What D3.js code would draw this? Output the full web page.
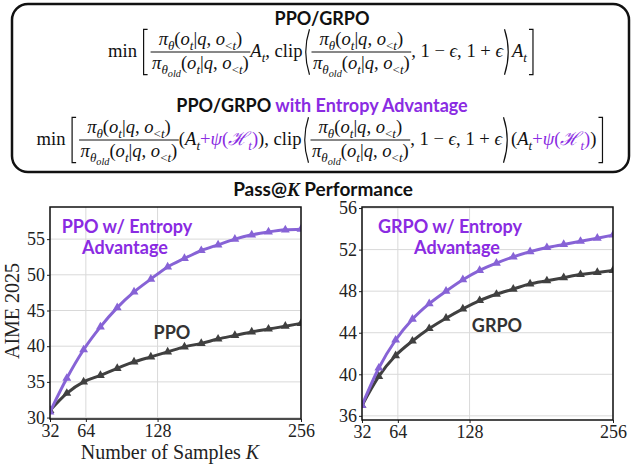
<!DOCTYPE html>
<html>
<head>
<meta charset="utf-8">
<script src="https://cdn.jsdelivr.net/npm/d3@7"></script>
<style>
  body { margin: 0; background: #fff; }
  text { white-space: pre; }
</style>
</head>
<body>
<div id="chart"></div>
<script>
// ---- data ----
const kValues = [32, 47, 62, 77, 92, 107, 122, 137, 152, 167, 182, 197, 212, 227, 242, 256];
const kTicks = [32, 64, 128, 256];

const ppo   = [31.0, 33.4, 35.0, 35.9, 36.9, 37.8, 38.5, 39.2, 39.9, 40.4, 41.0, 41.5, 42.0, 42.4, 42.8, 43.2];
const ppoEA = [30.8, 35.5, 39.5, 42.7, 45.4, 47.6, 49.4, 51.1, 52.3, 53.4, 54.2, 55.0, 55.6, 56.0, 56.3, 56.4];
const grpo   = [37.0, 39.8, 41.8, 43.2, 44.4, 45.4, 46.3, 47.1, 47.7, 48.2, 48.7, 49.0, 49.3, 49.6, 49.8, 50.0];
const grpoEA = [37.0, 40.6, 43.3, 45.3, 46.8, 48.0, 49.1, 50.0, 50.7, 51.3, 51.8, 52.2, 52.5, 52.8, 53.1, 53.4];

const ppoTicks = [30, 35, 40, 45, 50, 55];
const grpoTicks = [36, 40, 44, 48, 52, 56];

const PURPLE_TXT = '#8a2be2';
const PURPLE_LINE = '#8763d6';
const DARK_LINE = '#404040';
const SANS = "Lato, 'Open Sans', sans-serif";
const SERIF = "'Liberation Serif', 'DejaVu Serif', serif";

const W = 641, H = 466;
const svg = d3.select('#chart').append('svg')
  .attr('width', W).attr('height', H)
  .style('display', 'block');

// ---- formula box ----
svg.append('rect')
  .attr('x', 12).attr('y', 4).attr('width', 617).attr('height', 168)
  .attr('rx', 16).attr('fill', 'none')
  .attr('stroke', '#111').attr('stroke-width', 2.5);

svg.append('text')
  .attr('x', 322).attr('y', 25).attr('text-anchor', 'middle')
  .attr('font-family', SANS).attr('font-weight', 700).attr('font-size', 18)
  .attr('fill', '#111').text('PPO/GRPO');

const t2 = svg.append('text')
  .attr('x', 322).attr('y', 112).attr('text-anchor', 'middle')
  .attr('font-family', SANS).attr('font-weight', 700).attr('font-size', 18)
  .attr('fill', '#111');
t2.append('tspan').text('PPO/GRPO ');
t2.append('tspan').attr('fill', PURPLE_TXT).text('with Entropy Advantage');

// tiny math layout: runs of glyphs, fractions and tall brackets
const it = (t, s, c) => ({ t, i: 1, s, c });
const rm = (t, s, c) => ({ t, s, c });

function putRun(g, parts, x, base, size) {
  let cx = x;
  parts.forEach(p => {
    const lv = p.s || 0;
    const el = g.append('text')
      .attr('x', cx).attr('y', base + [0, 0.26, 0.44][lv] * size)
      .attr('font-family', SERIF)
      .attr('font-size', size * [1, 0.7, 0.55][lv])
      .attr('font-style', p.i ? 'italic' : null)
      .attr('fill', p.c || '#111')
      .text(p.t);
    cx += el.node().getComputedTextLength();
  });
  return cx - x;
}

function putBracket(g, kind, x, axis, size) {
  const top = axis - 1.22 * size, bot = axis + 1.22 * size;
  let d;
  if (kind === '[') d = `M${x + 6},${top}H${x + 2}V${bot}H${x + 6}`;
  if (kind === ']') d = `M${x + 2},${top}H${x + 6}V${bot}H${x + 2}`;
  if (kind === '(') d = `M${x + 7},${top}Q${x - 0.5},${axis} ${x + 7},${bot}`;
  if (kind === ')') d = `M${x + 1.5},${top}Q${x + 9},${axis} ${x + 1.5},${bot}`;
  g.append('path').attr('d', d).attr('fill', 'none')
    .attr('stroke', '#111').attr('stroke-width', 1.2);
  return 9;
}

function putFrac(g, num, den, x, axis, size) {
  const gn = g.append('g'), gd = g.append('g');
  const wn = putRun(gn, num, 0, axis - 0.36 * size, size);
  const wd = putRun(gd, den, 0, axis + 0.9 * size, size);
  const w = Math.max(wn, wd) + 3;
  gn.attr('transform', `translate(${x + (w - wn) / 2},0)`);
  gd.attr('transform', `translate(${x + (w - wd) / 2},0)`);
  g.append('line').attr('x1', x).attr('x2', x + w)
    .attr('y1', axis).attr('y2', axis)
    .attr('stroke', '#111').attr('stroke-width', 1);
  return w;
}

function formula(items, cx, axis, size) {
  const g = svg.append('g');
  let x = 0;
  items.forEach(d => {
    if (d.run) x += putRun(g, d.run, x, axis + 0.27 * size, size);
    else if (d.br) x += putBracket(g, d.br, x, axis, size);
    else if (d.frac) x += putFrac(g, d.frac[0], d.frac[1], x, axis, size);
  });
  g.attr('transform', `translate(${cx - x / 2},0)`);
}

const condTail = [rm('('), it('o'), it('t', 1), rm('|'), it('q'), rm(', '), it('o'), rm('<', 1), it('t', 1), rm(')')];
const ratioNum = [it('π'), it('θ', 1)].concat(condTail);
const ratioDen = [it('π'), it('θ', 1), it('old', 2)].concat(condTail);
const clipTail = [rm(', 1 − '), it('ϵ'), rm(', 1 + '), it('ϵ')];
const advEnt = [rm('('), it('A'), it('t', 1), rm('+', 0, PURPLE_TXT), it('ψ', 0, PURPLE_TXT),
  rm('(', 0, PURPLE_TXT), it('ℋ', 0, PURPLE_TXT), it('t', 1, PURPLE_TXT), rm(')', 0, PURPLE_TXT), rm(')')];

const MATH_SIZE = 18.6;
formula([
  { run: [rm('min ')] }, { br: '[' }, { frac: [ratioNum, ratioDen] },
  { run: [it('A'), it('t', 1), rm(', clip')] }, { br: '(' }, { frac: [ratioNum, ratioDen] },
  { run: clipTail }, { br: ')' }, { run: [it('A'), it('t', 1)] }, { br: ']' }
], 322, 52, MATH_SIZE);

formula([
  { run: [rm('min ')] }, { br: '[' }, { frac: [ratioNum, ratioDen] },
  { run: advEnt.concat([rm(', clip')]) }, { br: '(' }, { frac: [ratioNum, ratioDen] },
  { run: clipTail }, { br: ')' }, { run: advEnt }, { br: ']' }
], 321, 140, MATH_SIZE);

// ---- Pass@K title ----
const tt = svg.append('text')
  .attr('x', 323).attr('y', 196).attr('text-anchor', 'middle')
  .attr('font-family', SANS).attr('font-weight', 700).attr('font-size', 19).attr('fill', '#111');
tt.append('tspan').text('Pass@');
tt.append('tspan').attr('font-family', SERIF).attr('font-style', 'italic').text('K');
tt.append('tspan').text(' Performance');

// ---- the two panels ----
const panels = [
  { left: 50, right: 301, top: 207, bottom: 419, yDomain: [29.8, 59.5], yTicks: ppoTicks,
    base: ppo, ea: ppoEA,
    eaLabel: [['PPO w/ Entropy', 127, 233], ['Advantage', 125, 254]], baseLabel: ['PPO', 172, 339] },
  { left: 362, right: 613, top: 207, bottom: 420, yDomain: [35.6, 56.1], yTicks: grpoTicks,
    base: grpo, ea: grpoEA,
    eaLabel: [['GRPO w/ Entropy', 450, 233], ['Advantage', 457, 254]], baseLabel: ['GRPO', 497, 332] }
];

const tri = d3.symbol().type(d3.symbolTriangle).size(34)();

panels.forEach((p, idx) => {
  const x = d3.scaleLinear().domain([32, 256]).range([p.left, p.right]);
  const y = d3.scaleLinear().domain(p.yDomain).range([p.bottom, p.top]);
  const g = svg.append('g');

  g.append('g').selectAll('line').data(kTicks).join('line')
    .attr('x1', d => x(d)).attr('x2', d => x(d))
    .attr('y1', p.top).attr('y2', p.bottom)
    .attr('stroke', '#d9d9d9').attr('stroke-width', 1);
  g.append('g').selectAll('line').data(p.yTicks).join('line')
    .attr('x1', p.left).attr('x2', p.right)
    .attr('y1', d => y(d)).attr('y2', d => y(d))
    .attr('stroke', '#d9d9d9').attr('stroke-width', 1);

  const ax = g.append('g').attr('transform', `translate(0,${p.bottom})`)
    .call(d3.axisBottom(x).tickValues(kTicks).tickSize(3).tickPadding(2).tickSizeOuter(0));
  const ay = g.append('g').attr('transform', `translate(${p.left},0)`)
    .call(d3.axisLeft(y).tickValues(p.yTicks).tickSize(3).tickPadding(2).tickSizeOuter(0));
  [ax, ay].forEach(a => {
    a.select('.domain').remove();
    a.selectAll('line').attr('stroke', '#222');
    a.selectAll('text').attr('font-family', SERIF).attr('font-size', 18).attr('fill', '#222');
  });

  const cid = 'clip' + idx;
  svg.append('clipPath').attr('id', cid).append('rect')
    .attr('x', p.left).attr('y', p.top)
    .attr('width', p.right - p.left).attr('height', p.bottom - p.top);
  const plot = g.append('g').attr('clip-path', `url(#${cid})`);

  const line = d3.line().x((d, i) => x(kValues[i])).y(d => y(d)).curve(d3.curveMonotoneX);
  [[p.base, DARK_LINE], [p.ea, PURPLE_LINE]].forEach(([vals, col]) => {
    plot.append('path').datum(vals).attr('d', line)
      .attr('fill', 'none').attr('stroke', col).attr('stroke-width', 3);
    plot.append('g').selectAll('path').data(vals).join('path')
      .attr('d', tri)
      .attr('transform', (d, i) => `translate(${x(kValues[i])},${y(d)})`)
      .attr('fill', col);
  });

  g.append('rect')
    .attr('x', p.left).attr('y', p.top)
    .attr('width', p.right - p.left).attr('height', p.bottom - p.top)
    .attr('fill', 'none').attr('stroke', '#111').attr('stroke-width', 1.5);

  p.eaLabel.forEach(([t, lx, ly]) => {
    g.append('text').attr('x', lx).attr('y', ly).attr('text-anchor', 'middle')
      .attr('font-family', SANS).attr('font-weight', 700).attr('font-size', 18)
      .attr('fill', PURPLE_TXT).text(t);
  });
  g.append('text').attr('x', p.baseLabel[1]).attr('y', p.baseLabel[2]).attr('text-anchor', 'middle')
    .attr('font-family', SANS).attr('font-weight', 700).attr('font-size', 18)
    .attr('fill', '#333').text(p.baseLabel[0]);
});

// axis titles (left panel only)
svg.append('text')
  .attr('transform', 'translate(19,311) rotate(-90)')
  .attr('text-anchor', 'middle')
  .attr('font-family', SERIF).attr('font-size', 20).attr('fill', '#222')
  .text('AIME 2025');

const xl = svg.append('text')
  .attr('x', 170).attr('y', 459).attr('text-anchor', 'middle')
  .attr('font-family', SERIF).attr('font-size', 20).attr('fill', '#222');
xl.append('tspan').text('Number of Samples ');
xl.append('tspan').attr('font-style', 'italic').text('K');
</script>
</body>
</html>
